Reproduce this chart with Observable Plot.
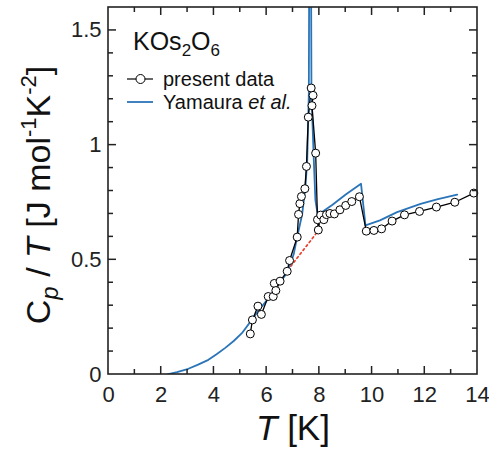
<!DOCTYPE html>
<html><head><meta charset="utf-8">
<script src="https://cdn.jsdelivr.net/npm/d3@7"></script>
<script src="https://cdn.jsdelivr.net/npm/@observablehq/plot@0.6"></script>
<style>body{margin:0;background:#fff;font-family:"Liberation Sans",Arial,sans-serif;overflow:hidden}</style>
</head><body><div id="chart"></div>
<script>
// present data (open circles)
const presentT   = [5.38, 5.46, 5.67, 5.80, 6.06, 6.25, 6.29, 6.35, 6.51, 6.78, 6.87, 7.16, 7.21, 7.26, 7.32, 7.45, 7.51, 7.58, 7.69, 7.76, 7.72, 7.86, 7.93, 7.96, 8.05, 8.17, 8.27, 8.40, 8.57, 8.78, 9.00, 9.23, 9.52, 9.78, 10.07, 10.36, 10.76, 11.23, 11.80, 12.44, 13.14, 13.86];
const presentCpT = [0.177, 0.238, 0.298, 0.262, 0.340, 0.340, 0.397, 0.366, 0.407, 0.450, 0.497, 0.599, 0.698, 0.745, 0.776, 0.810, 0.907, 1.122, 1.249, 1.217, 1.172, 0.965, 0.675, 0.630, 0.695, 0.675, 0.697, 0.702, 0.700, 0.718, 0.737, 0.754, 0.775, 0.625, 0.628, 0.635, 0.669, 0.696, 0.711, 0.730, 0.751, 0.791];
// Yamaura et al. (blue line)
const yamauraT   = [2.23, 2.6, 3.03, 3.4, 3.79, 4.1, 4.43, 4.75, 5.06, 5.5, 5.69, 6.0, 6.27, 6.5, 6.78, 7.03, 7.13, 7.35, 7.47, 7.54, 7.60, 7.65, 7.70, 7.79, 7.85, 7.94, 8.5, 9.0, 9.58, 9.75, 10.3, 10.95, 11.84, 12.5, 13.23];
const yamauraCpT = [0, 0.010, 0.025, 0.043, 0.064, 0.088, 0.116, 0.146, 0.180, 0.248, 0.279, 0.322, 0.366, 0.400, 0.445, 0.526, 0.584, 0.700, 0.817, 0.933, 1.224, 3.0, 1.224, 0.933, 0.760, 0.695, 0.740, 0.785, 0.832, 0.650, 0.672, 0.708, 0.744, 0.765, 0.784];
// normal-state extrapolation (red dotted)
const normalT   = [6.80, 7.97];
const normalCpT = [0.455, 0.628];
// ticks
const xTicks = [0,1,2,3,4,5,6,7,8,9,10,11,12,13,14];
const xLabels = [0,2,4,6,8,10,12,14];
const yTicks = [0,0.1,0.2,0.3,0.4,0.5,0.6,0.7,0.8,0.9,1.0,1.1,1.2,1.3,1.4,1.5,1.6];
const yLabels = [0,0.5,1,1.5];

const W = 489, H = 450, mL = 108, mR = 12, mT = 7, mB = 76;
const xMax = 14, yMax = 1.6;

const present = presentT.map((t, i) => ({t, v: presentCpT[i]}));
const yam = yamauraT.map((t, i) => ({t, v: yamauraCpT[i]}));
const normal = normalT.map((t, i) => ({t, v: normalCpT[i]}));

const BLUE = "#2a74b8", AX = "#222";

const chart = Plot.plot({
  width: W, height: H, marginLeft: mL, marginRight: mR, marginTop: mT, marginBottom: mB,
  style: {fontFamily: "'Liberation Sans', Arial, sans-serif", background: "#fff", color: "#222"},
  x: {domain: [0, xMax], label: null},
  y: {domain: [0, yMax], label: null},
  marks: [
    Plot.line(normal, {x: "t", y: "v", stroke: "#e8402f", strokeWidth: 1.7, strokeDasharray: "2,3"}),
    Plot.line(yam, {x: "t", y: "v", stroke: BLUE, strokeWidth: 1.8, clip: true}),
    Plot.line(present, {x: "t", y: "v", stroke: "#000", strokeWidth: 1.3}),
    Plot.dot(present, {x: "t", y: "v", r: 4, fill: "#fff", stroke: "#000", strokeWidth: 1}),
    Plot.axisX({ticks: xLabels, tickSize: 0, tickPadding: 12, fontSize: 22, tickFormat: d => String(d), label: null}),
    Plot.axisY({ticks: yLabels, tickSize: 0, tickPadding: 7, fontSize: 22, tickFormat: d => String(d), label: null})
  ]
});
document.getElementById("chart").appendChild(chart);
const svgEl = chart.tagName.toLowerCase() === "svg" ? chart : chart.querySelector("svg");
const svg = d3.select(svgEl);
const sx = chart.scale("x"), sy = chart.scale("y");
const X = v => sx.apply(v), Y = v => sy.apply(v);

// frame and inward ticks on all four sides, placed with Plot's scales
const ax = svg.append("g").attr("stroke", AX).attr("stroke-width", 1.5).attr("fill", "none");
const x0 = X(0), x1 = X(xMax), y0 = Y(0), y1 = Y(yMax);
xTicks.filter(d => d > 0 && d < xMax).forEach(d => {
  const L = xLabels.includes(d) ? 8 : 5;
  ax.append("line").attr("x1", X(d)).attr("x2", X(d)).attr("y1", y0).attr("y2", y0 - L);
  ax.append("line").attr("x1", X(d)).attr("x2", X(d)).attr("y1", y1).attr("y2", y1 + L);
});
yTicks.filter(d => d > 1e-9 && d < yMax - 1e-9).forEach(d => {
  const L = yLabels.some(v => Math.abs(v - d) < 1e-9) ? 8 : 5;
  ax.append("line").attr("y1", Y(d)).attr("y2", Y(d)).attr("x1", x0).attr("x2", x0 + L);
  ax.append("line").attr("y1", Y(d)).attr("y2", Y(d)).attr("x1", x1).attr("x2", x1 - L);
});
ax.append("rect").attr("x", x0).attr("y", y1).attr("width", x1 - x0).attr("height", y0 - y1).attr("stroke-width", 1.6);

// axis titles
const yl = svg.append("text").attr("transform", "translate(50,195) rotate(-90)")
  .attr("text-anchor", "middle").attr("font-size", 34).attr("fill", "#111");
yl.append("tspan").text("C");
yl.append("tspan").attr("font-size", 24).attr("dy", 8).attr("font-style", "italic").text("p");
yl.append("tspan").attr("dy", -8).text(" / ");
yl.append("tspan").attr("font-style", "italic").text("T");
yl.append("tspan").text(" [J mol");
yl.append("tspan").attr("font-size", 22).attr("dy", -14).text("-1");
yl.append("tspan").attr("dy", 14).text("K");
yl.append("tspan").attr("font-size", 22).attr("dy", -14).text("-2");
yl.append("tspan").attr("dy", 14).text("]");

const xl = svg.append("text").attr("x", 293).attr("y", 440)
  .attr("text-anchor", "middle").attr("font-size", 35).attr("fill", "#111");
xl.append("tspan").attr("font-style", "italic").text("T");
xl.append("tspan").text(" [K]");

// compound label
const kt = svg.append("text").attr("x", 133).attr("y", 50).attr("text-anchor", "start").attr("font-size", 25).attr("fill", "#111");
kt.append("tspan").text("KOs");
kt.append("tspan").attr("font-size", 17).attr("dy", 6).text("2");
kt.append("tspan").attr("dy", -6).text("O");
kt.append("tspan").attr("font-size", 17).attr("dy", 6).text("6");

// legend
const lg = svg.append("g").attr("text-anchor", "start");
lg.append("line").attr("x1", 127).attr("x2", 153).attr("y1", 79).attr("y2", 79).attr("stroke", "#000").attr("stroke-width", 1.2);
lg.append("circle").attr("cx", 140.5).attr("cy", 79).attr("r", 4.5).attr("fill", "#fff").attr("stroke", "#000");
lg.append("text").attr("x", 163).attr("y", 86).attr("font-size", 20).attr("fill", "#111").text("present data");
lg.append("line").attr("x1", 127).attr("x2", 153).attr("y1", 102).attr("y2", 102).attr("stroke", BLUE).attr("stroke-width", 1.8);
const t2 = lg.append("text").attr("x", 163).attr("y", 109).attr("font-size", 20).attr("fill", "#111");
t2.append("tspan").text("Yamaura ");
t2.append("tspan").attr("font-style", "italic").text("et al.");
</script>
</body></html>
